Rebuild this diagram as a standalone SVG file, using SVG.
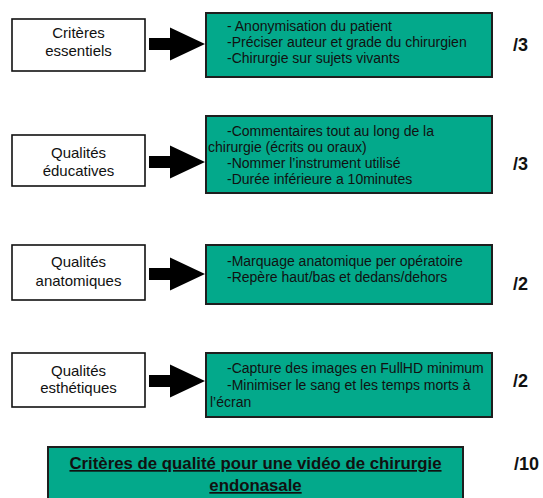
<svg xmlns="http://www.w3.org/2000/svg" width="543" height="498" viewBox="0 0 543 498">
<style>
.lbox{fill:#fff;stroke:#111;stroke-width:1.6}
.gbox{fill:#03a98b;stroke:#1e1e1e;stroke-width:2}
.lt{font-family:"Liberation Sans",Arial,Helvetica,sans-serif;font-size:15px;fill:#111;text-anchor:middle}
.gt{font-family:"Liberation Sans",Arial,Helvetica,sans-serif;font-size:14px;fill:#111}
.sc{font-family:"Liberation Sans",Arial,Helvetica,sans-serif;font-size:18px;font-weight:bold;fill:#111}
.tt{font-family:"Liberation Sans",Arial,Helvetica,sans-serif;font-size:16.8px;font-weight:bold;fill:#111;text-anchor:middle;text-decoration:underline}
.arr{fill:#000}
</style>
<rect width="543" height="498" fill="#fff"/>
<g id="connectors">
<polygon class="arr" points="149,38 170,38 170,27.5 205,44 170,60.5 170,50 149,50"/>
<polygon class="arr" points="149,156 170,156 170,145.5 205,162 170,178.5 170,168 149,168"/>
<polygon class="arr" points="149,268 170,268 170,257.5 205,274 170,290.5 170,280 149,280"/>
<polygon class="arr" points="149,375 170,375 170,364.5 205,381 170,397.5 170,387 149,387"/>
</g>
<g id="criteres-essentiels">
<rect class="lbox" x="12" y="19" width="133" height="52"/>
<text class="lt" x="78.5" y="38">Critères</text>
<text class="lt" x="78.5" y="56">essentiels</text>
</g>
<g id="essentiels-details">
<rect class="gbox" x="206" y="13" width="286" height="64"/>
<text class="gt" x="227" y="31">- Anonymisation du patient</text>
<text class="gt" x="227" y="47">-Préciser auteur et grade du chirurgien</text>
<text class="gt" x="227" y="63">-Chirurgie sur sujets vivants</text>
<text class="sc" x="513" y="50.5">/3</text>
</g>
<g id="qualites-educatives">
<rect class="lbox" x="12" y="135" width="133" height="51"/>
<text class="lt" x="78.5" y="157.5">Qualités</text>
<text class="lt" x="78.5" y="176">éducatives</text>
</g>
<g id="educatives-details">
<rect class="gbox" x="206" y="116" width="286" height="77"/>
<text class="gt" x="227" y="136">-Commentaires tout au long de la</text>
<text class="gt" x="208" y="152">chirurgie (écrits ou oraux)</text>
<text class="gt" x="227" y="168">-Nommer l’instrument utilisé</text>
<text class="gt" x="227" y="184">-Durée inférieure a 10minutes</text>
<text class="sc" x="513" y="170">/3</text>
</g>
<g id="qualites-anatomiques">
<rect class="lbox" x="12" y="245" width="133" height="55"/>
<text class="lt" x="78.5" y="267">Qualités</text>
<text class="lt" x="78.5" y="286">anatomiques</text>
</g>
<g id="anatomiques-details">
<rect class="gbox" x="206" y="245" width="286" height="59"/>
<text class="gt" x="227" y="265.5">-Marquage anatomique per opératoire</text>
<text class="gt" x="227" y="281.5">-Repère haut/bas et dedans/dehors</text>
<text class="sc" x="513" y="290">/2</text>
</g>
<g id="qualites-esthetiques">
<rect class="lbox" x="12" y="353" width="133" height="54"/>
<text class="lt" x="78.5" y="375.5">Qualités</text>
<text class="lt" x="78.5" y="392.5">esthétiques</text>
</g>
<g id="esthetiques-details">
<rect class="gbox" x="206" y="353" width="286" height="64"/>
<text class="gt" x="227" y="373">-Capture des images en FullHD minimum</text>
<text class="gt" x="227" y="390">-Minimiser le sang et les temps morts à</text>
<text class="gt" x="210" y="407">l’écran</text>
<text class="sc" x="513" y="387">/2</text>
</g>
<g id="titre">
<rect class="gbox" x="48" y="447" width="415" height="60"/>
<text class="tt" x="255.5" y="469">Critères de qualité pour une vidéo de chirurgie</text>
<text class="tt" x="255.5" y="491">endonasale</text>
<text class="sc" x="514" y="469.5">/10</text>
</g>
</svg>
